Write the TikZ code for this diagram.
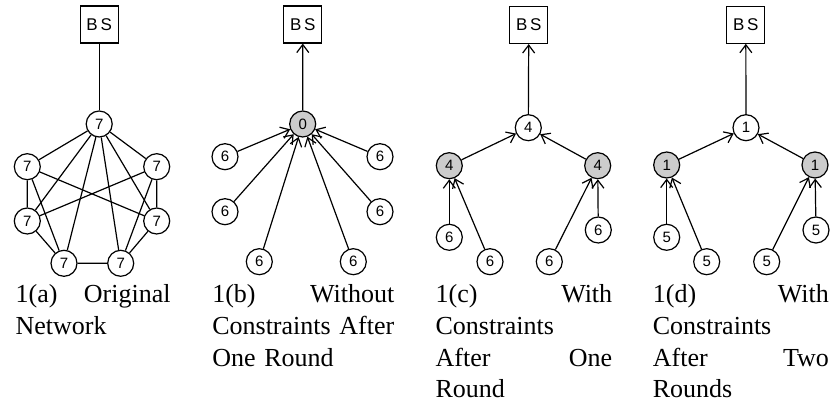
\documentclass[tikz,border=0pt]{standalone}
\usepackage{fontspec}
\setmainfont{Liberation Serif}
\newfontfamily\arialfont{Liberation Sans}
\usetikzlibrary{arrows.meta}

\tikzset{every picture/.style={line width=0.6pt}}
\tikzset{
  nd/.style={draw,circle,minimum size=13pt,inner sep=0pt,font=\arialfont\fontsize{7.5}{9}\selectfont},
  gnd/.style={nd,fill=gray!40},
  bsbox/.style={draw,minimum width=19pt,minimum height=18.5pt,inner sep=0pt,font=\arialfont\fontsize{8.5}{10}\selectfont},
  link/.style={-{Straight Barb[length=4pt,width=6pt]}},
  caption/.style={anchor=base west,inner sep=0pt,align=left,font=\fontsize{13}{15.8}\selectfont}
}

\begin{document}
\begin{tikzpicture}[x=0.5pt,y=0.5pt,yscale=-1,xscale=1]
\useasboundingbox (0,0) rectangle (832,405);

%Panel 1(a): original network
\node[bsbox] (bsA) at (99.2,24.5) {B\,S};
\node[nd] (a0) at (99.2,124) {7};
\node[nd] (a1) at (27.3,166.7) {7};
\node[nd] (a2) at (156.7,166.7) {7};
\node[nd] (a3) at (27.3,221) {7};
\node[nd] (a4) at (156.7,221) {7};
\node[nd] (a5) at (64,263.3) {7};
\node[nd] (a6) at (120.7,263.3) {7};
\draw (a0) -- (bsA);
\foreach \k in {1,...,6} \draw (a0) -- (a\k);
\draw (a1) -- (a3) (a1) -- (a4) (a1) -- (a5);
\draw (a2) -- (a4) (a2) -- (a3) (a2) -- (a6);
\draw (a3) -- (a5) (a4) -- (a6) (a5) -- (a6);

%Panel 1(b): without constraints
\node[bsbox] (bsB) at (302.8,24.5) {B\,S};
\node[gnd] (b0) at (302.7,124) {0};
\node[nd] (b1) at (225,156.7) {6};
\node[nd] (b2) at (225,211.7) {6};
\node[nd] (b3) at (259.3,261.7) {6};
\node[nd] (b4) at (353.3,261.7) {6};
\node[nd] (b5) at (380,211.7) {6};
\node[nd] (b6) at (380,156.7) {6};
\draw[link] (b0) -- (bsB);
\foreach \k in {1,...,6} \draw[link] (b\k) -- (b0);

%Panel 1(c): with constraints, one round
\node[bsbox] (bsC) at (528.8,25) {B\,S};
\node[nd] (c0) at (528.3,127.7) {4};
\node[gnd] (c1) at (449.3,165.7) {4};
\node[gnd] (c2) at (597.7,165.7) {4};
\node[nd] (c3) at (449.3,237.3) {6};
\node[nd] (c4) at (490,261.7) {6};
\node[nd] (c5) at (549.3,261.7) {6};
\node[nd] (c6) at (598.3,230) {6};
\draw[link] (c0) -- (bsC);
\draw[link] (c1) -- (c0);
\draw[link] (c2) -- (c0);
\draw[link] (c3) -- (c1);
\draw[link] (c4) -- (c1);
\draw[link] (c5) -- (c2);
\draw[link] (c6) -- (c2);

%Panel 1(d): with constraints, two rounds
\node[bsbox] (bsD) at (745.8,24.7) {B\,S};
\node[nd] (d0) at (746,127.7) {1};
\node[gnd] (d1) at (666.7,165) {1};
\node[gnd] (d2) at (815,165) {1};
\node[nd] (d3) at (666.7,237.3) {5};
\node[nd] (d4) at (706.7,261.7) {5};
\node[nd] (d5) at (766.7,261.7) {5};
\node[nd] (d6) at (816,230) {5};
\draw[link] (d0) -- (bsD);
\draw[link] (d1) -- (d0);
\draw[link] (d2) -- (d0);
\draw[link] (d3) -- (d1);
\draw[link] (d4) -- (d1);
\draw[link] (d5) -- (d2);
\draw[link] (d6) -- (d2);

% Captions
\node[caption,text width=77.5pt] (capA) at (15,303) {1(a)\hfill Original\\Network};
\node[caption,text width=91pt] (capB) at (211.7,303) {1(b)\hfill Without\\Constraints\hfill After\\One Round};
\node[caption,text width=88.3pt] (capC) at (435,303) {1(c)\hfill With\\Constraints\\After\hfill One\\Round};
\node[caption,text width=88pt] (capD) at (652.3,303) {1(d)\hfill With\\Constraints\\After\hfill Two\\Rounds};

\end{tikzpicture}
\end{document}
